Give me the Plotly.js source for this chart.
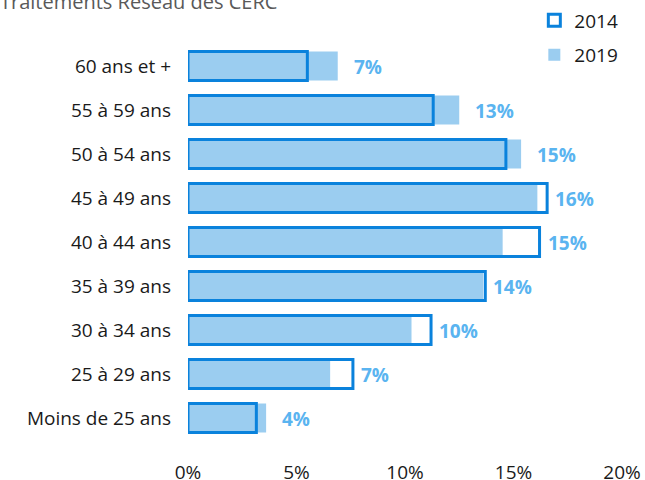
<!DOCTYPE html>
<html><head><meta charset="utf-8">
<script src="https://cdn.plot.ly/plotly-3.0.1.min.js"></script>
<style>html,body{margin:0;padding:0;background:#fff}#chart{width:645px;height:480px}</style>
</head><body><div id="chart"></div>
<script>
const categories = ["60 ans et +","55 à 59 ans","50 à 54 ans","45 à 49 ans","40 à 44 ans","35 à 39 ans","30 à 34 ans","25 à 29 ans","Moins de 25 ans"];
const values2014 = [5.5, 11.3, 14.65, 16.55, 16.2, 13.7, 11.2, 7.6, 3.15];
const values2019 = [6.9, 12.5, 15.35, 16.1, 14.5, 13.6, 10.3, 6.55, 3.6];
const tickVals = [0, 5, 10, 15, 20];
const tickText = ["0%", "5%", "10%", "15%", "20%"];

const font = "Open Sans, Noto Sans, sans-serif";

const traces = [
  {type: "bar", orientation: "h", name: "2019", y: categories, x: values2019,
   marker: {color: "#9bcdf0", line: {width: 0}}, width: 0.66, legendrank: 2, legendgroup: "b", hoverinfo: "skip"},
  {type: "bar", orientation: "h", name: "2014", y: categories, x: values2014,
   marker: {color: "rgba(0,0,0,0)", line: {color: "#0a82dc", width: 3}}, width: 0.66, legendrank: 1, legendgroup: "a", hoverinfo: "skip"}
];

const annotations = categories.map((c, i) => ({
  x: Math.max(values2014[i], values2019[i]), y: c, xref: "x", yref: "y",
  text: Math.round(values2019[i]) + "%", showarrow: false, xanchor: "left", yanchor: "middle",
  xshift: values2019[i] >= values2014[i] ? 14 : 6, yshift: -1,
  font: {family: font, size: 19, color: "#5ab4f0", weight: "bold"}
}));

const layout = {
  width: 645, height: 480,
  margin: {l: 188, r: 23, t: 0, b: 40, autoexpand: false},
  paper_bgcolor: "#fff", plot_bgcolor: "#fff",
  barmode: "overlay",
  font: {family: font, size: 18, color: "#1a1a1a"},
  title: {text: "Traitements Réseau des CERC", x: 0, xref: "container", xanchor: "left", y: 0.995, yref: "container", yanchor: "middle",
          font: {family: font, size: 20, color: "#595959"}},
  showlegend: true,
  legend: {x: 0.798, xanchor: "left", xref: "paper", y: 0.997, yanchor: "top", yref: "paper",
           font: {family: font, size: 19, color: "#1a1a1a"}, itemwidth: 30, tracegroupgap: 7, bgcolor: "rgba(0,0,0,0)"},
  annotations: annotations,
  xaxis: {range: [0, 20], tickvals: tickVals, ticktext: tickText, showgrid: false, zeroline: false, showline: false,
          ticks: "", ticklabelstandoff: 19, tickfont: {family: font, size: 19, color: "#1a1a1a"}, fixedrange: true},
  yaxis: {type: "category", range: [8.5, -1.5], showgrid: false, zeroline: false, showline: false, ticks: "",
          ticklabelstandoff: 16, tickfont: {family: font, size: 19, color: "#1a1a1a"}, fixedrange: true}
};

Plotly.newPlot("chart", traces, layout, {displayModeBar: false, staticPlot: true});
</script></body></html>
